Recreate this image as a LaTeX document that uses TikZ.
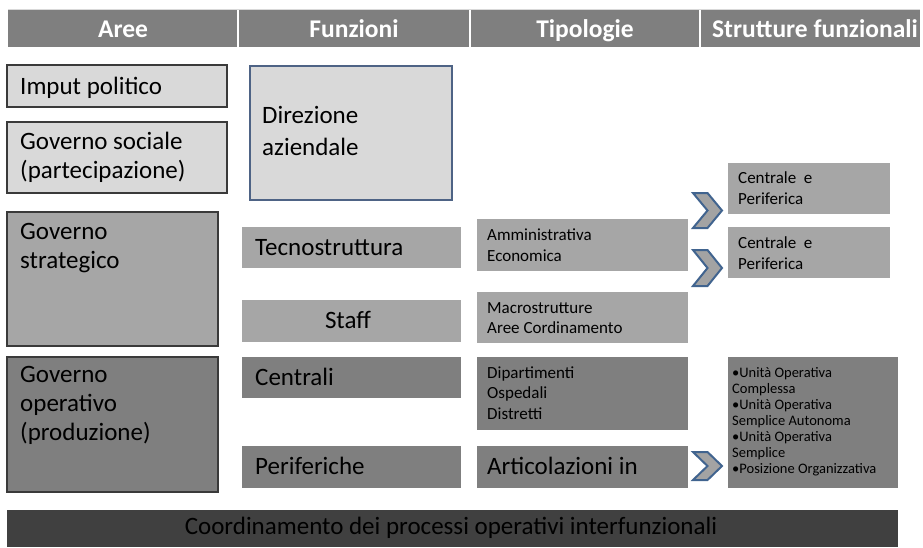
\documentclass[tikz,border=0pt]{standalone}
\usepackage{fontspec}
\setmainfont{Carlito}
\definecolor{lgray}{HTML}{D9D9D9}
\definecolor{mgray}{HTML}{A6A6A6}
\definecolor{dgray}{HTML}{7F7F7F}
\definecolor{xgray}{HTML}{404040}
\definecolor{hgray}{HTML}{7F7F7F}
\definecolor{bordc}{HTML}{3A3A3A}
\definecolor{dirc}{HTML}{4E6385}
\definecolor{chevc}{HTML}{41648F}
\definecolor{chevf}{HTML}{A3A3A3}
\newcommand{\mychev}[3]{% name, ycenter, halfheight
  \coordinate (#1) at (707.5,#2);
  \draw[chevron] (693,#2-#3) -- (707.5,#2-#3) -- (722,#2) -- (707.5,#2+#3) -- (693,#2+#3) -- (707.5,#2) -- cycle;}
\begin{document}
\begin{tikzpicture}[x=1pt,y=-1pt,
  shp/.style={anchor=north west, inner sep=0pt, outer sep=0pt},
  edged/.style={shp, draw=bordc, line width=1.1pt},
  big/.style={font=\fontsize{25}{29}\selectfont, inner sep=0pt, align=left, anchor=base west},
  mid/.style={font=\fontsize{17}{20.5}\selectfont, inner sep=0pt, align=left, anchor=base west},
  small/.style={font=\fontsize{14.5}{16}\selectfont, inner sep=0pt, align=left, anchor=base west},
  head/.style={font=\fontsize{25.5}{29}\selectfont\bfseries, text=white, inner sep=0pt, anchor=base},
  chevron/.style={fill=chevf, draw=chevc, line width=2pt, line join=miter}
]
\path[use as bounding box] (0,0) rectangle (923,547);

% header
\node[shp, fill=hgray, minimum width=230pt, minimum height=38pt] (h1) at (8,9) {};
\node[shp, fill=hgray, minimum width=232pt, minimum height=38pt] (h2) at (238,9) {};
\node[shp, fill=hgray, minimum width=230pt, minimum height=38pt] (h3) at (470,9) {};
\node[shp, fill=hgray, minimum width=220pt, minimum height=38pt] (h4) at (700,9) {};
\draw[white, line width=1.2pt] (h1.north east) -- (h1.south east);
\draw[white, line width=1.2pt] (h2.north east) -- (h2.south east);
\draw[white, line width=1.2pt] (h3.north east) -- (h3.south east);
\draw[white!85!black, line width=0.8pt] (h1.north west) -- (h4.north east);
\node[head] (th1) at (123,37.5) {Aree};
\node[head] (th2) at (354,37.5) {Funzioni};
\node[head] (th3) at (585,37.5) {Tipologie};
\node[head] (th4) at (815,37.5) {Strutture funzionali};

% Aree column (multi-line nodes: base = baseline of last line)
\node[edged, fill=lgray, minimum width=220pt, minimum height=42pt] (imput) at (7,65) {};
\node[big] (timput) at (20,94) {Imput politico};
\node[edged, fill=lgray, minimum width=220pt, minimum height=71pt] (gsoc) at (7,122) {};
\node[big] (tgsoc) at (20,178) {Governo sociale\\(partecipazione)};
\node[edged, fill=mgray, minimum width=211pt, minimum height=134pt] (gstrat) at (7,212) {};
\node[big] (tgstrat) at (20,268.5) {Governo\\strategico};
\node[edged, fill=dgray, minimum width=211pt, minimum height=135pt] (goper) at (7,357) {};
\node[big] (tgoper) at (20,440) {Governo\\operativo\\(produzione)};

% Funzioni column
\node[shp, fill=lgray, draw=dirc, line width=1.1pt, minimum width=202pt, minimum height=134pt] (dir) at (250,66) {};
\node[big, font=\fontsize{25}{32}\selectfont] (tdir) at (262,155) {Direzione\\aziendale};
\node[shp, fill=mgray, minimum width=219pt, minimum height=41pt] (tecno) at (242,227) {};
\node[big] (ttecno) at (255,255) {Tecnostruttura};
\node[shp, fill=mgray, minimum width=219pt, minimum height=42pt] (staff) at (242,300) {};
\node[big, anchor=base] (tstaff) at (348,328.5) {Staff};
\node[shp, fill=dgray, minimum width=219pt, minimum height=41pt] (centrali) at (242,357) {};
\node[big] (tcentrali) at (255,385) {Centrali};
\node[shp, fill=dgray, minimum width=219pt, minimum height=42pt] (perif) at (242,446) {};
\node[big] (tperif) at (255,474) {Periferiche};

% Tipologie column
\node[shp, fill=mgray, minimum width=211pt, minimum height=52pt] (ammin) at (477,219) {};
\node[mid] (tammin) at (487,261) {Amministrativa\\Economica};
\node[shp, fill=mgray, minimum width=211pt, minimum height=51pt] (macro) at (477,292) {};
\node[mid] (tmacro) at (487,333.5) {Macrostrutture\\Aree Cordinamento};
\node[shp, fill=dgray, minimum width=211pt, minimum height=73pt] (dipart) at (477,357) {};
\node[mid] (tdipart) at (487,419) {Dipartimenti\\Ospedali\\Distretti};
\node[shp, fill=dgray, minimum width=211pt, minimum height=42pt] (artic) at (477,446) {};
\node[big] (tartic) at (487,474) {Articolazioni in};

% Strutture funzionali column
\node[shp, fill=mgray, minimum width=162pt, minimum height=51pt] (cp1) at (728,163) {};
\node[mid] (tcp1) at (738,204) {Centrale~ e\\Periferica};
\node[shp, fill=mgray, minimum width=162pt, minimum height=51pt] (cp2) at (728,227) {};
\node[mid] (tcp2) at (738,269) {Centrale~ e\\Periferica};
\node[shp, fill=dgray, minimum width=170pt, minimum height=131pt] (uo) at (728,357) {};
\node[small] (tuo) at (732,473) {•Unità Operativa\\Complessa\\•Unità Operativa\\Semplice Autonoma\\•Unità Operativa\\Semplice\\•Posizione Organizzativa};

% chevrons
\mychev{c1}{210.5}{17.5}
\mychev{c2}{268}{18}
\mychev{c3}{466}{14}

% bottom bar
\node[shp, fill=xgray, minimum width=891pt, minimum height=37pt] (coord) at (7,510) {};
\node[big, anchor=base, font=\fontsize{25}{29}\selectfont] (tcoord) at (451,534) {Coordinamento dei processi operativi interfunzionali};
\end{tikzpicture}
\end{document}
